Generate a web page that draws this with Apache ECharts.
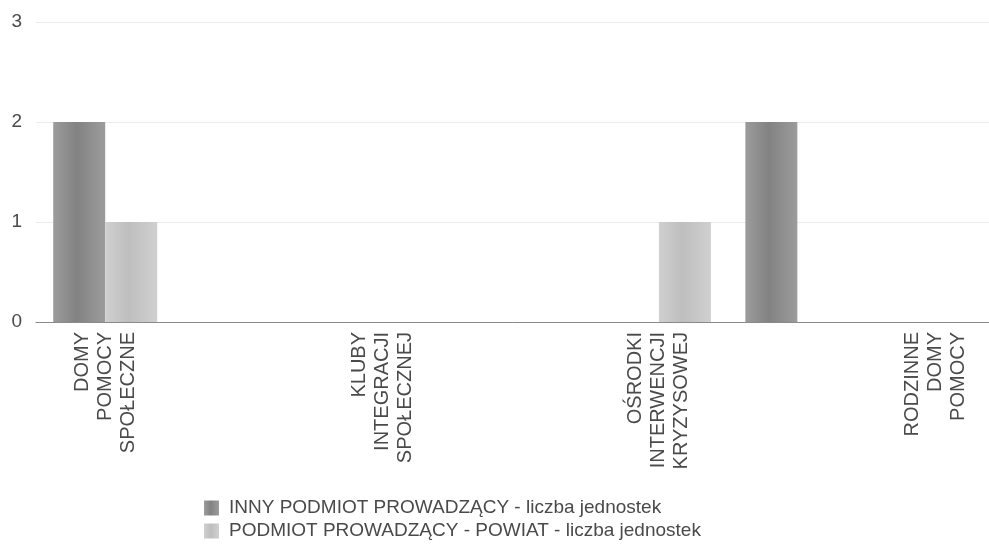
<!DOCTYPE html>
<html>
<head>
<meta charset="utf-8">
<script src="https://cdn.jsdelivr.net/npm/echarts@6/dist/echarts.min.js"></script>
<style>
  html, body { margin: 0; padding: 0; background: #fff; }
  #chart { width: 989px; height: 547px; }
</style>
</head>
<body>
<div id="chart"></div>
<script>
// kategorie - co druga etykieta jest pusta (ukryta w oryginale)
let kategorie = [
  "DOMY\nPOMOCY\nSPOŁECZNE",
  "",
  "KLUBY\nINTEGRACJI\nSPOŁECZNEJ",
  "",
  "OŚRODKI\nINTERWENCJI\nKRYZYSOWEJ",
  "",
  "RODZINNE\nDOMY\nPOMOCY",
];
let innyPodmiot = [2, 0, 0, 0, 0, 2, 0];
let powiat = [1, 0, 0, 0, 1, 0, 0];
let yTicks = [0, 1, 2, 3];
let nazwySerii = [
  "INNY PODMIOT PROWADZĄCY - liczba jednostek",
  "PODMIOT PROWADZĄCY - POWIAT - liczba jednostek",
];

let textColor = "#4a4a4a";
let fontFamily = "Liberation Sans, Arial, sans-serif";

function pasek(c1, c2) {
  return new echarts.graphic.LinearGradient(0, 0, 1, 0, [
    { offset: 0, color: c1 },
    { offset: 0.45, color: c2 },
    { offset: 1, color: c1 },
  ]);
}

let chart = echarts.init(document.getElementById("chart"));
let option = {
  backgroundColor: "#fff",
  animation: false,
  grid: {
    left: 36,
    right: -16,
    top: 22,
    bottom: 225,
    containLabel: false,
    outerBoundsMode: "none",
  },
  legend: {
    orient: "vertical",
    left: 199,
    top: 493,
    width: 600,
    height: 60,
    itemWidth: 15,
    itemHeight: 15,
    itemGap: 3,
    icon: "rect",
    data: nazwySerii,
    textStyle: {
      color: textColor,
      fontSize: 19,
      lineHeight: 20,
      fontFamily: fontFamily,
      padding: [0, 0, 0, 5],
    },
  },
  xAxis: {
    type: "category",
    data: kategorie,
    axisLine: { lineStyle: { color: "#8a8a8a", width: 1 } },
    axisTick: { show: false },
    axisLabel: {
      interval: 0,
      rotate: 90,
      margin: 10,
      color: textColor,
      fontSize: 20,
      lineHeight: 23,
      fontFamily: fontFamily,
    },
  },
  yAxis: {
    type: "value",
    min: yTicks[0],
    max: yTicks[yTicks.length - 1],
    interval: 1,
    axisLine: { show: false },
    axisTick: { show: false },
    splitLine: { lineStyle: { color: "#ececec", width: 1 } },
    axisLabel: {
      margin: 14,
      color: textColor,
      fontSize: 19,
      fontFamily: fontFamily,
    },
  },
  series: [
    {
      name: nazwySerii[0],
      type: "bar",
      barWidth: 52,
      barGap: 0,
      data: innyPodmiot,
      itemStyle: { color: pasek("#9c9c9c", "#828282") },
    },
    {
      name: nazwySerii[1],
      type: "bar",
      barWidth: 52,
      barGap: 0,
      data: powiat,
      itemStyle: { color: pasek("#d0d0d0", "#bebebe") },
    },
  ],
};
chart.setOption(option);
</script>
</body>
</html>
